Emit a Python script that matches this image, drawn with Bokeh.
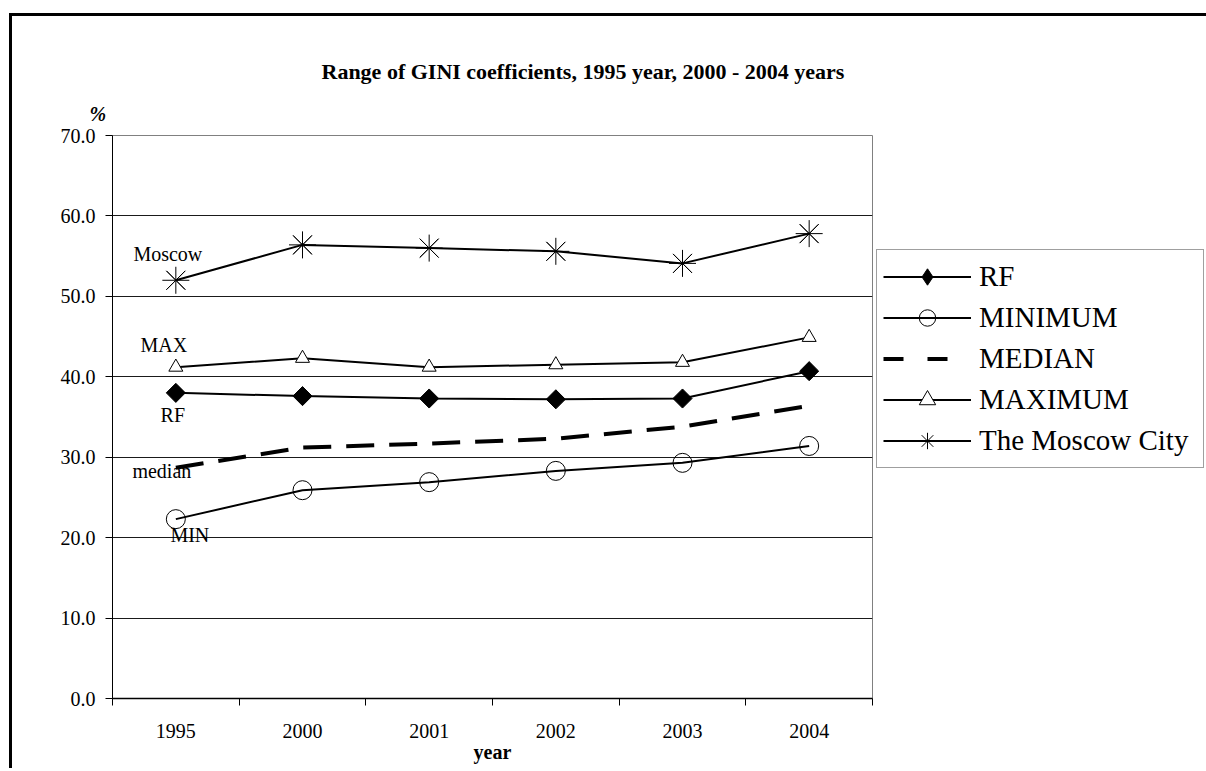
import numpy as np
from bokeh.plotting import figure
from bokeh.layouts import row
from bokeh.models import Range1d, FixedTicker, NumeralTickFormatter, Label, Legend, LegendItem, Title
from bokeh.embed import file_html
from bokeh.resources import INLINE

# data (GINI coefficient, %)
years = ["1995", "2000", "2001", "2002", "2003", "2004"]
rf = [38.0, 37.6, 37.3, 37.2, 37.3, 40.7]
minimum = [22.3, 25.9, 26.9, 28.3, 29.3, 31.4]
median = [28.7, 31.2, 31.7, 32.3, 33.8, 36.4]
maximum = [41.2, 42.3, 41.2, 41.5, 41.8, 44.9]
moscow = [52.0, 56.4, 56.0, 55.6, 54.1, 57.8]

FONT = "Liberation Serif"

# category centres on a 0..6 axis, boundaries get the tick marks
xs = [i + 0.5 for i in range(len(years))]

p = figure(width=864, height=752, x_range=Range1d(0, len(years)), y_range=Range1d(0, 70),
           output_backend="svg", toolbar_location=None,
           min_border_left=100, min_border_right=4, min_border_top=119, min_border_bottom=70)
p.background_fill_color = "white"
p.border_fill_color = "white"
p.outline_line_color = "#808080"

# x axis: labels at centres, ticks between categories
p.xaxis.ticker = FixedTicker(ticks=xs, minor_ticks=list(range(len(years) + 1)))
p.xaxis.major_label_overrides = {x: y for x, y in zip(xs, years)}
p.xaxis.major_tick_line_color = None
p.xaxis.major_tick_out = 0
p.xaxis.major_tick_in = 0
p.xaxis.minor_tick_line_color = "black"
p.xaxis.minor_tick_out = 7
p.xaxis.minor_tick_in = 0
p.xaxis.major_label_standoff = 18
p.xaxis.axis_line_color = "black"
p.xaxis.axis_line_width = 1.5
p.xaxis.axis_label = "year"
p.xaxis.axis_label_standoff = 0
p.xaxis.axis_label_text_font = FONT
p.xaxis.axis_label_text_font_size = "20px"
p.xaxis.axis_label_text_font_style = "bold"
p.xaxis.axis_label_text_color = "black"

# y axis
p.yaxis.ticker = FixedTicker(ticks=list(range(0, 71, 10)))
p.yaxis.formatter = NumeralTickFormatter(format="0.0")
p.yaxis.minor_tick_line_color = None
p.yaxis.major_tick_out = 7
p.yaxis.major_tick_in = 0
p.yaxis.major_tick_line_color = "black"
p.yaxis.major_label_standoff = 10
p.yaxis.axis_line_color = "black"

for ax in (p.xaxis, p.yaxis):
    ax.major_label_text_font = FONT
    ax.major_label_text_font_size = "20px"
    ax.major_label_text_color = "black"

p.xgrid.grid_line_color = None
p.ygrid.ticker = FixedTicker(ticks=list(range(10, 70, 10)))
p.ygrid.grid_line_color = "#1a1a1a"

# series
p.line(xs, rf, line_color="black", line_width=2)
p.scatter(xs, rf, marker="square", angle=np.pi / 4, size=13.5, fill_color="black", line_color="black")

p.line(xs, minimum, line_color="black", line_width=2)
p.scatter(xs, minimum, marker="circle", size=19, fill_color=None, line_color="black", line_width=1)

p.line(xs, median, line_color="black", line_width=4, line_dash="28 15")

p.line(xs, maximum, line_color="black", line_width=2)
p.scatter(xs, maximum, marker="triangle", size=14, fill_color="white", line_color="black", line_width=1)

p.line(xs, moscow, line_color="black", line_width=2)
p.scatter(xs, moscow, marker="x", size=26, line_color="black", line_width=1)
p.scatter(xs, moscow, marker="asterisk", size=27, line_color="black", line_width=1)

# series names next to the 1995 points
tags = [("Moscow", moscow[0], -8, 26), ("MAX", maximum[0], -12, 22), ("RF", rf[0], -3, -22),
        ("median", median[0], -14, -3), ("MIN", minimum[0], 14, -16)]
for txt, yv, dx, dy in tags:
    p.add_layout(Label(x=xs[0], y=yv, text=txt, x_offset=dx, y_offset=dy,
                       text_align="center", text_baseline="middle",
                       text_font=FONT, text_font_size="20px", text_color="black"))

# unit mark above the y axis, then the chart title
p.add_layout(Title(text="%", align="left", offset=-23, standoff=22,
                   text_font=FONT, text_font_size="20px", text_font_style="bold italic",
                   text_color="black"), "above")
p.add_layout(Title(text="Range of GINI coefficients, 1995 year,  2000 - 2004 years",
                   align="left", offset=209, standoff=12,
                   text_font=FONT, text_font_size="22px", text_font_style="bold",
                   text_color="black"), "above")

# legend panel: a bare figure to the right, its keys drawn from the same series
# (ranges kept away from the data so only the legend shows)
lp = figure(width=330, height=752, x_range=Range1d(100, 101), y_range=Range1d(100, 101),
            output_backend="svg", toolbar_location=None,
            x_axis_location=None, y_axis_location=None,
            min_border_left=0, min_border_right=0, min_border_top=0, min_border_bottom=0)
lp.grid.visible = False
lp.outline_line_color = None
lp.background_fill_color = "white"
lp.border_fill_color = "white"

k_rf = [lp.line(xs, rf, line_color="black", line_width=2),
        lp.scatter(xs, rf, marker="diamond", size=17, fill_color="black", line_color="black")]
k_min = [lp.line(xs, minimum, line_color="black", line_width=2),
         lp.scatter(xs, minimum, marker="circle", fill_color=None, line_color="black")]
k_med = [lp.line(xs, median, line_color="black", line_width=4, line_dash="20 24")]
k_max = [lp.line(xs, maximum, line_color="black", line_width=2),
         lp.scatter(xs, maximum, marker="triangle", fill_color="white", line_color="black")]
k_mos = [lp.line(xs, moscow, line_color="black", line_width=2),
         lp.scatter(xs, moscow, marker="asterisk", line_color="black")]

legend = Legend(items=[
    LegendItem(label="RF", renderers=k_rf),
    LegendItem(label="MINIMUM", renderers=k_min),
    LegendItem(label="MEDIAN", renderers=k_med),
    LegendItem(label="MAXIMUM", renderers=k_max),
    LegendItem(label="The Moscow City", renderers=k_mos),
], location=(0, 230))
legend.label_text_font = FONT
legend.label_text_font_size = "29px"
legend.label_text_color = "black"
legend.glyph_width = 88
legend.glyph_height = 41
legend.label_height = 41
legend.label_width = 218
legend.label_standoff = 8
legend.spacing = 0
legend.padding = 6
legend.margin = 0
legend.border_line_color = "#404040"
legend.border_line_width = 1
legend.background_fill_alpha = 1.0
lp.add_layout(legend)

page = row(p, lp, spacing=0)
page.styles = {"border-top": "3px solid black", "border-left": "3px solid black",
               "margin-top": "13px", "margin-left": "9px"}

open("out.html", "w").write(file_html(page, INLINE))
